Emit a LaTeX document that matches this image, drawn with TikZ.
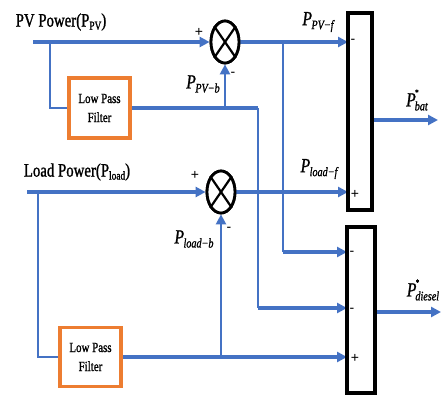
\documentclass[tikz,border=0pt]{standalone}
\usepackage{fontspec}
\setmainfont{Liberation Serif}
\newfontfamily\cserif[FakeStretch=0.78,FakeBold=1.2]{Liberation Serif}
\newfontfamily\csans{Liberation Sans}
\usetikzlibrary{arrows.meta,shapes.geometric,calc}
\definecolor{sigblue}{RGB}{68,114,196}
\definecolor{lpforange}{RGB}{237,125,49}
\newcommand{\Plbl}[1]{{\fontsize{20}{20}\cserif\itshape P\kern-0.5pt\raisebox{-4pt}{\fontsize{13}{13}\selectfont #1}}}
\newcommand{\Pstar}[1]{{\fontsize{20}{20}\cserif\itshape P\kern-1pt\rlap{\raisebox{11pt}{\fontsize{9}{9}\selectfont *}}\raisebox{-4pt}{\fontsize{13}{13}\selectfont #1}}}
\newcommand{\Pup}[1]{P\raisebox{-3pt}{\fontsize{12}{12}\selectfont #1}}
\begin{document}
\begin{tikzpicture}[x=1pt,y=-1pt,
  tip/.style={-{Triangle[length=10pt,width=10pt]}},
  sig/.style={draw=sigblue, line width=3.6pt},
  br/.style={draw=sigblue, line width=2.4pt},
  sumnode/.style={ellipse, draw=black, line width=2.8pt, fill=white, minimum width=28pt, minimum height=42pt, inner sep=0pt},
  blk/.style={draw=black, line width=3.2pt, fill=white, inner sep=0pt},
  lpf/.style={draw=lpforange, line width=3.2pt, fill=white, minimum width=61pt, minimum height=60pt, inner sep=0pt, align=center, font=\fontsize{14}{19}\cserif},
  sign/.style={font=\fontsize{14}{14}\csans, inner sep=0pt},
  lbl/.style={inner sep=0pt},
  title/.style={inner sep=0pt, font=\fontsize{19}{20}\cserif}]
\useasboundingbox (0,0) rectangle (448,396);

% nodes
\node[sumnode] (s1) at (225,42) {};
\node[sumnode] (s2) at (221,192) {};
\node[lpf] (lpf1) at (99.5,108) {Low Pass\\Filter};
\node[lpf, minimum height=59pt] (lpf2) at (90.5,357) {Low Pass\\Filter};

% named coordinates
\coordinate (pvin) at (33,42);
\coordinate (pvbr) at (50,42);
\coordinate (lpf1o) at (258,108);
\coordinate (fb1) at (225,108);
\coordinate (pvf) at (283,42);
\coordinate (k1) at (258,308);
\coordinate (k2) at (283,252);
\coordinate (ld) at (27,192);
\coordinate (ldbr) at (38,192);
\coordinate (fb2) at (221,357);
\coordinate (ba1) at (348,42);
\coordinate (ba2) at (348,192);
\coordinate (d1) at (347,252);
\coordinate (d2) at (347,308);
\coordinate (d3) at (347,357);
\coordinate (bo) at (372,120);
\coordinate (boe) at (438,120);
\coordinate (dout) at (375,312);
\coordinate (doe) at (441,312);

% PV path
\draw[sig,tip] (pvin) -- (s1.west);
\draw[br] (pvbr) |- (lpf1.west);
\draw[sig] (lpf1.east) -- (lpf1o);
\draw[br,tip] (fb1) -- (s1.south);
\draw[sig,tip] (s1.east) -- (ba1);
\draw[br] (pvf) -- (k2);
\draw[sig,tip] (k2) -- (d1);
\draw[br] (lpf1o) -- (k1);
\draw[sig,tip] (k1) -- (d2);

% Load path
\draw[sig,tip] (ld) -- (s2.west);
\draw[br] (ldbr) |- (lpf2.west);
\draw[sig,tip] (lpf2.east) -- (d3);
\draw[br,tip] (fb2) -- (s2.south);
\draw[sig,tip] (s2.east) -- (ba2);

% outputs
\draw[sig,tip] (bo) -- (boe);
\draw[sig,tip] (dout) -- (doe);

% redraw boxes on top
\node[lpf] at (lpf1) {Low Pass\\Filter};
\node[lpf, minimum height=59pt] at (lpf2) {Low Pass\\Filter};
\node[sumnode] at (s1) {};
\node[sumnode] at (s2) {};
\draw[line width=2.2pt] (s1.north east) -- (s1.south west) (s1.north west) -- (s1.south east);
\draw[line width=2.2pt] (s2.north east) -- (s2.south west) (s2.north west) -- (s2.south east);

\node[blk, minimum width=24pt, minimum height=197pt] (bat) at (360,111.5) {};
\node[blk, minimum width=28pt, minimum height=166pt] (dsl) at (361,310) {};

% signs
\node[sign] (p1) at (199,32) {+};
\node[sign] (m1) at (233,74) {-};
\node[sign] (p2) at (195,175) {+};
\node[sign] (m2) at (229,229) {-};
\node[sign] (bm) at (353,41) {-};
\node[sign] (bp) at (355,194) {+};
\node[sign] (dm1) at (352,253) {-};
\node[sign] (dm2) at (352,310) {-};
\node[sign] (dp) at (355,358) {+};

% labels
\node[title] (tpv) at (61,22) {PV Power(\Pup{PV})};
\node[title] (tld) at (77,172) {Load Power(\Pup{load})};
\node[lbl] (lpvf) at (318,22) {\Plbl{PV−f}};
\node[lbl] (lpvb) at (203,84) {\Plbl{PV−b}};
\node[lbl] (lldf) at (319,169) {\Plbl{load−f}};
\node[lbl] (lldb) at (194,239) {\Plbl{load−b}};
\node[lbl] (lbat) at (417,100) {\Pstar{bat}};
\node[lbl] (ldsl) at (423,290) {\Pstar{diesel}};
\end{tikzpicture}
\end{document}
